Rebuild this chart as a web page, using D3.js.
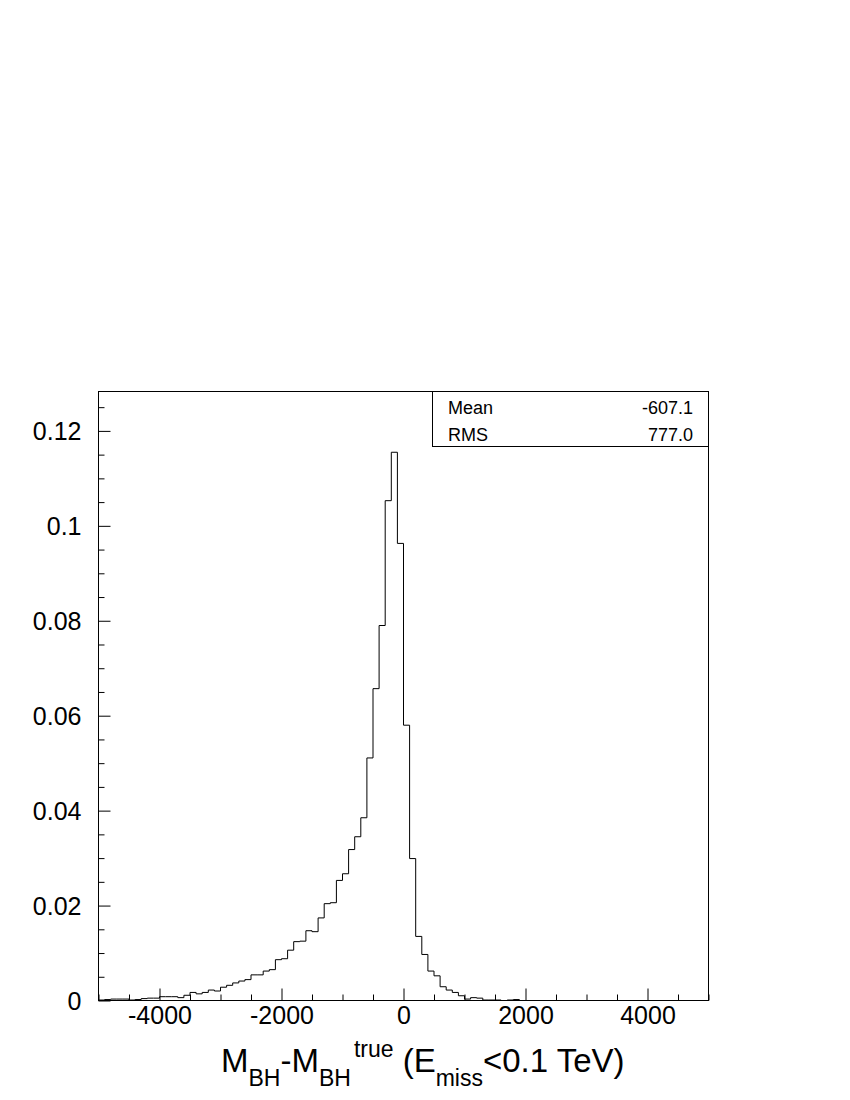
<!DOCTYPE html>
<html>
<head>
<meta charset="utf-8">
<script src="https://cdn.jsdelivr.net/npm/d3@7"></script>
<style>
  body { margin: 0; background: #fff; }
  svg { display: block; font-family: "Liberation Sans", Arial, Helvetica, sans-serif; }
</style>
</head>
<body>
<svg class="chart"></svg>
<script>
// histogram: 100 bins of width 100 from -5000 to 5000
const binLow = d3.range(-5000, 5000, 100);
const counts = [
  0.0001, 0.0002, 0.0003, 0.0003, 0.0003, 0.0001, 0.0002, 0.0004, 0.0005, 0.0005,
  0.0008, 0.0008, 0.0008, 0.0006, 0.0011, 0.0017, 0.0014, 0.0017, 0.0022, 0.0020,
  0.0028, 0.0032, 0.0037, 0.0041, 0.0044, 0.0054, 0.0054, 0.0062, 0.0065, 0.0086,
  0.0088, 0.0106, 0.0124, 0.0125, 0.0147, 0.0145, 0.0174, 0.0204, 0.0206, 0.0253,
  0.0267, 0.0318, 0.0345, 0.0385, 0.0511, 0.0657, 0.0790, 0.1053, 0.1155, 0.0963,
  0.0580, 0.0299, 0.0135, 0.0097, 0.0062, 0.0052, 0.0029, 0.0022, 0.0017, 0.0010,
  0.0003, 0.0006, 0.0005, 0.0001, 0.0001, 0.0001, 0, 0.0001, 0.0002, 0,
  0, 0, 0, 0, 0, 0, 0, 0, 0, 0,
  0, 0, 0, 0, 0, 0, 0, 0, 0, 0,
  0, 0, 0, 0, 0, 0, 0, 0, 0, 0
];

const xDomain = [-5000, 5000];
const yMax = 0.1283;
const xMajorTicks = [-4000, -2000, 0, 2000, 4000];
const xMinorTicks = [-5000, -4500, -3500, -3000, -2500, -1500, -1000, -500, 500, 1000, 1500, 2500, 3000, 3500, 4500, 5000];
const yMajorTicks = [0, 0.02, 0.04, 0.06, 0.08, 0.1, 0.12];
const yMinorTicks = [0.005, 0.01, 0.015, 0.025, 0.03, 0.035, 0.045, 0.05, 0.055, 0.065, 0.07, 0.075, 0.085, 0.09, 0.095, 0.105, 0.11, 0.115, 0.125];
const statNames = ['Mean', 'RMS'];
const statValues = ['-607.1', '777.0'];

// svg setup
const svgWidth = 850;
const svgHeight = 1100;
const frame = { left: 98.5, right: 708.5, top: 391.5, bottom: 1000.5 };

const svg = d3.select('.chart')
  .attr('width', svgWidth)
  .attr('height', svgHeight);

const xScale = d3.scaleLinear().domain(xDomain).range([frame.left, frame.right]);
const yScale = d3.scaleLinear().domain([0, yMax]).range([frame.bottom, frame.top]);

// histogram outline
const points = [{ x: xDomain[0], y: 0 }];
binLow.forEach((lo, i) => points.push({ x: lo, y: counts[i] }));
points.push({ x: xDomain[1], y: counts[counts.length - 1] });
points.push({ x: xDomain[1], y: 0 });

const histLine = d3.line()
  .x(d => xScale(d.x))
  .y(d => yScale(d.y))
  .curve(d3.curveStepAfter);

svg.append('path')
  .datum(points)
  .attr('d', histLine)
  .attr('fill', 'none')
  .attr('stroke', '#000')
  .attr('stroke-width', 1);

// x axis: ticks point inward
const xAxisG = svg.append('g').attr('transform', `translate(0, ${frame.bottom})`);
xAxisG.append('g')
  .call(d3.axisBottom(xScale).tickValues(xMinorTicks).tickSizeInner(-6).tickSizeOuter(0).tickFormat(''));
xAxisG.append('g')
  .call(d3.axisBottom(xScale).tickValues(xMajorTicks).tickSizeInner(-12).tickSizeOuter(0).tickPadding(6)
    .tickFormat(d => String(d)));

// y axis
const yAxisG = svg.append('g').attr('transform', `translate(${frame.left}, 0)`);
yAxisG.append('g')
  .call(d3.axisLeft(yScale).tickValues(yMinorTicks).tickSizeInner(-6).tickSizeOuter(0).tickFormat(''));
yAxisG.append('g')
  .call(d3.axisLeft(yScale).tickValues(yMajorTicks).tickSizeInner(-12).tickSizeOuter(0).tickPadding(17)
    .tickFormat(d => d === 0 ? '0' : d3.format('.2~f')(d)));

svg.selectAll('.tick text')
  .attr('font-size', 25)
  .attr('font-family', '"Liberation Sans", Arial, sans-serif')
  .attr('fill', '#000');
yAxisG.selectAll('.tick text').attr('dy', '0.36em');
svg.selectAll('.domain').remove();
svg.selectAll('.tick line').attr('stroke', '#000');

// frame
svg.append('rect')
  .attr('x', frame.left)
  .attr('y', frame.top)
  .attr('width', frame.right - frame.left)
  .attr('height', frame.bottom - frame.top)
  .attr('fill', 'none')
  .attr('stroke', '#000');

// stats box
const boxLeft = 432.5;
const boxBottom = 446.5;
svg.append('rect')
  .attr('x', boxLeft)
  .attr('y', frame.top)
  .attr('width', frame.right - boxLeft)
  .attr('height', boxBottom - frame.top)
  .attr('fill', '#fff')
  .attr('stroke', '#000');

statNames.forEach((name, i) => {
  const baseY = 413.5 + i * 27;
  svg.append('text')
    .attr('x', 448)
    .attr('y', baseY)
    .attr('font-size', 18)
    .text(name);
  svg.append('text')
    .attr('x', 693)
    .attr('y', baseY)
    .attr('font-size', 18)
    .attr('text-anchor', 'end')
    .text(statValues[i]);
});

// x axis title
const title = svg.append('text')
  .attr('x', 221)
  .attr('y', 1072)
  .attr('font-size', 33);
title.append('tspan').text('M');
title.append('tspan').attr('font-size', 23).attr('dy', 14).text('BH');
title.append('tspan').attr('dy', -14).text('-M');
title.append('tspan').attr('font-size', 23).attr('dy', 14).text('BH');
title.append('tspan').attr('font-size', 23).attr('dy', -29).attr('dx', 3).text('true');
title.append('tspan').attr('dy', 15).text(' (E');
title.append('tspan').attr('font-size', 23).attr('dy', 14).text('miss');
title.append('tspan').attr('dy', -14).text('<0.1 TeV)');
</script>
</body>
</html>
